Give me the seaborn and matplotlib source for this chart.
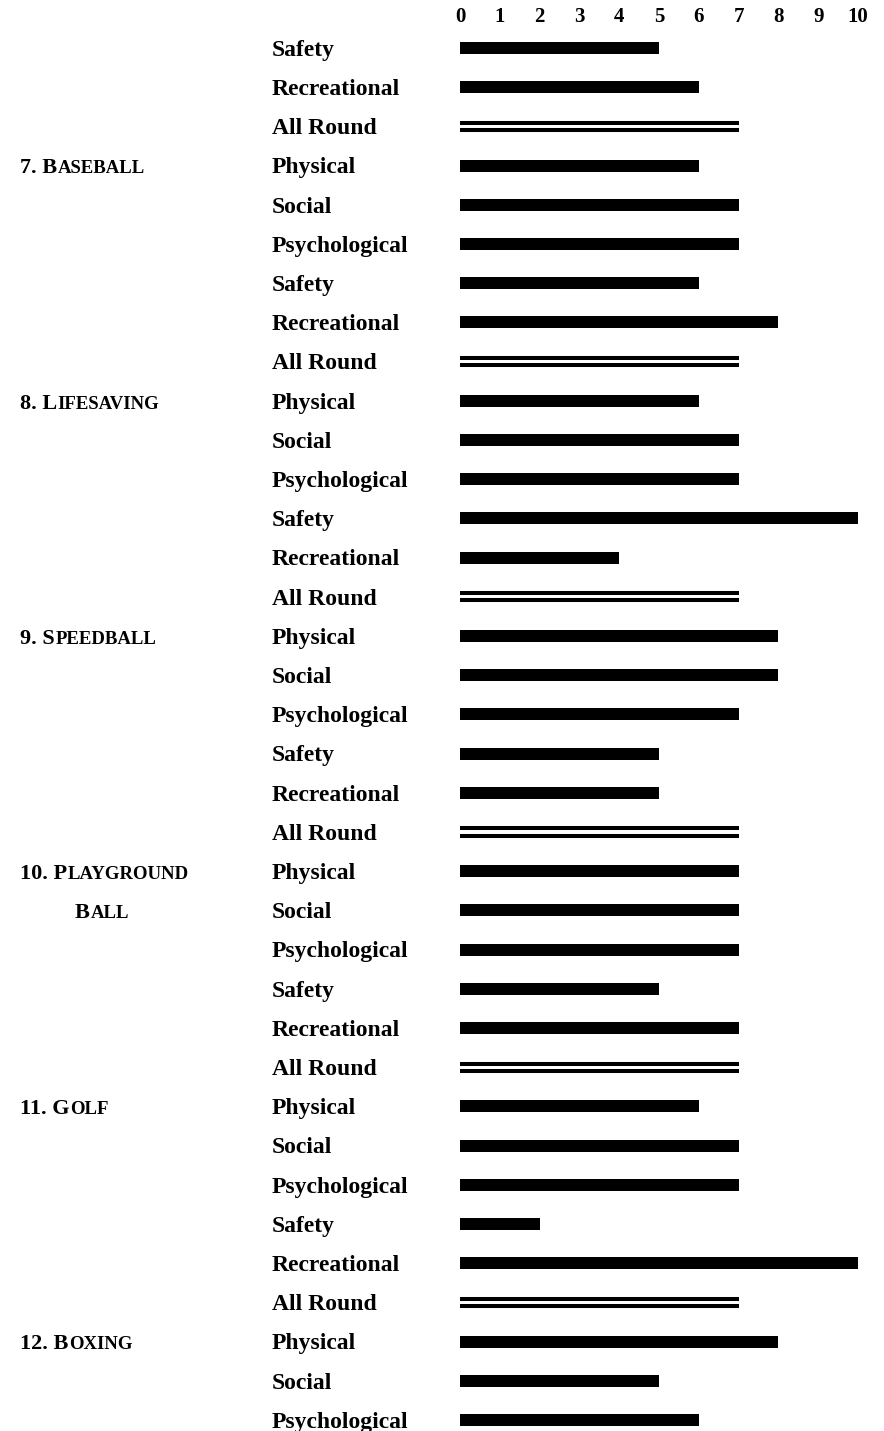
import matplotlib
matplotlib.use("Agg")
import matplotlib.pyplot as plt
import matplotlib.transforms as mtransforms
import seaborn as sns
import pandas as pd

# ratings 0-10 for each aspect of each activity (page continues from sport 6)
aspects = ["Safety", "Recreational", "All Round",
           "Physical", "Social", "Psychological", "Safety", "Recreational", "All Round",
           "Physical", "Social", "Psychological", "Safety", "Recreational", "All Round",
           "Physical", "Social", "Psychological", "Safety", "Recreational", "All Round",
           "Physical", "Social", "Psychological", "Safety", "Recreational", "All Round",
           "Physical", "Social", "Psychological", "Safety", "Recreational", "All Round",
           "Physical", "Social", "Psychological"]
scores = [5, 6, 7,
          6, 7, 7, 6, 8, 7,
          6, 7, 7, 10, 4, 7,
          8, 8, 7, 5, 5, 7,
          7, 7, 7, 5, 7, 7,
          6, 7, 7, 2, 10, 7,
          8, 5, 6]
# sport headings: (number, words in small caps), placed on their "Physical" row
sport_nums = ["7.", "8.", "9.", "10.", "11.", "12."]
sport_names = [["Baseball"], ["Lifesaving"], ["Speedball"], ["Playground", "Ball"], ["Golf"], ["Boxing"]]
ticks = list(range(0, 11))

df = pd.DataFrame({"row": range(len(aspects)), "aspect": aspects, "score": scores})
single = df[df["aspect"] != "All Round"]
double = df[df["aspect"] == "All Round"]

W, H = 884, 1431
fig = plt.figure(figsize=(W / 100, H / 100), dpi=100)
ax = fig.add_axes([460 / W, 0, 398 / W, 1401 / H])

sns.barplot(data=single, x="score", y="row", orient="h", native_scale=True,
            color="black", width=0.31, saturation=1, ax=ax)
# All Round rows are drawn as a double rule
for off in (-0.09, 0.09):
    ax.hlines(double["row"] + off, 0, double["score"], color="black", linewidth=2.9)

ax.set_xlim(0, 10)
ax.set_ylim(35.28, -0.459)
ax.set_xticks(ticks)
ax.set_xticklabels([str(t) for t in ticks], fontsize=15, fontweight="bold",
                   family="Liberation Serif")
ax.xaxis.tick_top()
ax.tick_params(axis="x", length=0, pad=2)
ax.set_yticks([])
ax.set_xlabel("")
ax.set_ylabel("")
for s in ax.spines.values():
    s.set_visible(False)

tr = mtransforms.blended_transform_factory(fig.transFigure, ax.transData)
base = 0.2
serif = dict(family="Liberation Serif", fontweight="bold", color="black")

for r, a in enumerate(aspects):
    ax.text(272 / W, r + base, a, transform=tr, fontsize=17, va="baseline", **serif)


def smallcaps(x, row, lead, word):
    # big first letter, the rest as smaller capitals on the same baseline
    t1 = ax.text(x, row + base, lead + word[0], transform=tr, fontsize=16,
                 va="baseline", **serif)
    ax.annotate(word[1:].upper(), xy=(1, row + base), xycoords=(t1, ax.transData),
                xytext=(0.5, 0), textcoords="offset points", fontsize=13.5,
                va="baseline", ha="left", **serif)


sport_rows = [i for i, a in enumerate(aspects) if a == "Physical"]
for num, words, r in zip(sport_nums, sport_names, sport_rows):
    smallcaps(20 / W, r, num + " ", words[0])
    if len(words) > 1:
        smallcaps(75 / W, r + 1, "", words[1])

fig.savefig("out.png", dpi=100, facecolor="white")
